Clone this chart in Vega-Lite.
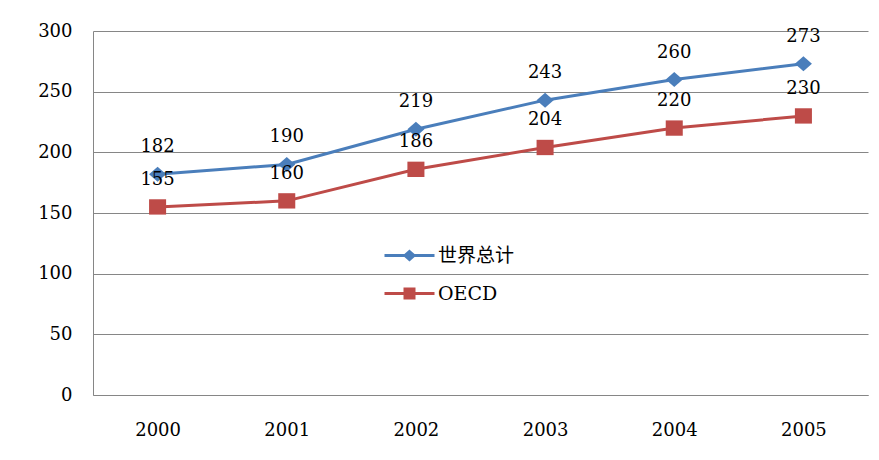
{
  "$schema": "https://vega.github.io/schema/vega-lite/v6.json",
  "width": 775,
  "height": 364,
  "autosize": {"type": "none"},
  "padding": {"left": 93, "top": 31, "right": 11, "bottom": 65},
  "background": "white",
  "config": {"view": {"stroke": null}, "font": "DejaVu Serif"},
  "data": {
    "values": [
      {"year": "2000", "series": "世界总计", "value": 182},
      {"year": "2001", "series": "世界总计", "value": 190},
      {"year": "2002", "series": "世界总计", "value": 219},
      {"year": "2003", "series": "世界总计", "value": 243},
      {"year": "2004", "series": "世界总计", "value": 260},
      {"year": "2005", "series": "世界总计", "value": 273},
      {"year": "2000", "series": "OECD", "value": 155},
      {"year": "2001", "series": "OECD", "value": 160},
      {"year": "2002", "series": "OECD", "value": 186},
      {"year": "2003", "series": "OECD", "value": 204},
      {"year": "2004", "series": "OECD", "value": 220},
      {"year": "2005", "series": "OECD", "value": 230}
    ]
  },
  "encoding": {
    "x": {
      "field": "year",
      "type": "ordinal",
      "scale": {"type": "point", "padding": 0.5},
      "axis": {
        "title": null,
        "labelAngle": 0,
        "ticks": false,
        "grid": false,
        "domainColor": "#868686",
        "domainWidth": 1,
        "labelPadding": 26,
        "labelFont": "DejaVu Serif",
        "labelFontSize": 18,
        "labelColor": "black"
      }
    },
    "y": {
      "field": "value",
      "type": "quantitative",
      "scale": {"domain": [0, 300], "nice": false},
      "axis": {
        "title": null,
        "values": [0, 50, 100, 150, 200, 250, 300],
        "ticks": false,
        "grid": true,
        "gridColor": "#868686",
        "gridWidth": 1,
        "domainColor": "#868686",
        "domainWidth": 1,
        "labelPadding": 21,
        "labelFont": "DejaVu Serif",
        "labelFontSize": 18,
        "labelColor": "black"
      }
    },
    "color": {
      "field": "series",
      "type": "nominal",
      "scale": {"domain": ["世界总计", "OECD"], "range": ["#4A7EBB", "#BE4B48"]},
      "legend": {
        "orient": "none",
        "legendX": 305,
        "legendY": 213,
        "title": null,
        "padding": 0,
        "labelFont": "DejaVu Serif, Noto Sans CJK SC",
        "labelFontSize": 19,
        "labelColor": "black",
        "labelOffset": 17,
        "rowPadding": 16,
        "symbolSize": 400,
        "encode": {
          "symbols": {
            "update": {
              "shape": {"signal": "datum.value === 'OECD' ? 'M-2.5,0L2.5,0M-0.45,-0.45L0.45,-0.45L0.45,0.45L-0.45,0.45Z' : 'M-2.5,0L2.5,0M0,-0.4L0.45,0L0,0.4L-0.45,0Z'"},
              "fill": {"signal": "datum.value === 'OECD' ? '#BE4B48' : '#4A7EBB'"},
              "stroke": {"signal": "datum.value === 'OECD' ? '#BE4B48' : '#4A7EBB'"},
              "strokeWidth": {"value": 3},
              "size": {"value": 400},
              "opacity": {"value": 1},
              "fillOpacity": {"value": 1}
            }
          }
        }
      }
    }
  },
  "layer": [
    {"mark": {"type": "line", "strokeWidth": 3}},
    {
      "transform": [{"filter": "datum.series === '世界总计'"}],
      "mark": {"type": "point", "filled": true, "opacity": 1, "size": 290, "shape": "M0,-0.88L1,0L0,0.88L-1,0Z"}
    },
    {
      "transform": [{"filter": "datum.series === 'OECD'"}],
      "mark": {"type": "point", "filled": true, "opacity": 1, "size": 290, "shape": "M-1,-0.9L1,-0.9L1,0.9L-1,0.9Z"}
    },
    {
      "mark": {"type": "text", "dy": -27, "fontSize": 18, "font": "DejaVu Serif", "baseline": "middle"},
      "encoding": {"text": {"field": "value", "type": "quantitative"}, "color": {"value": "black"}}
    }
  ]
}
